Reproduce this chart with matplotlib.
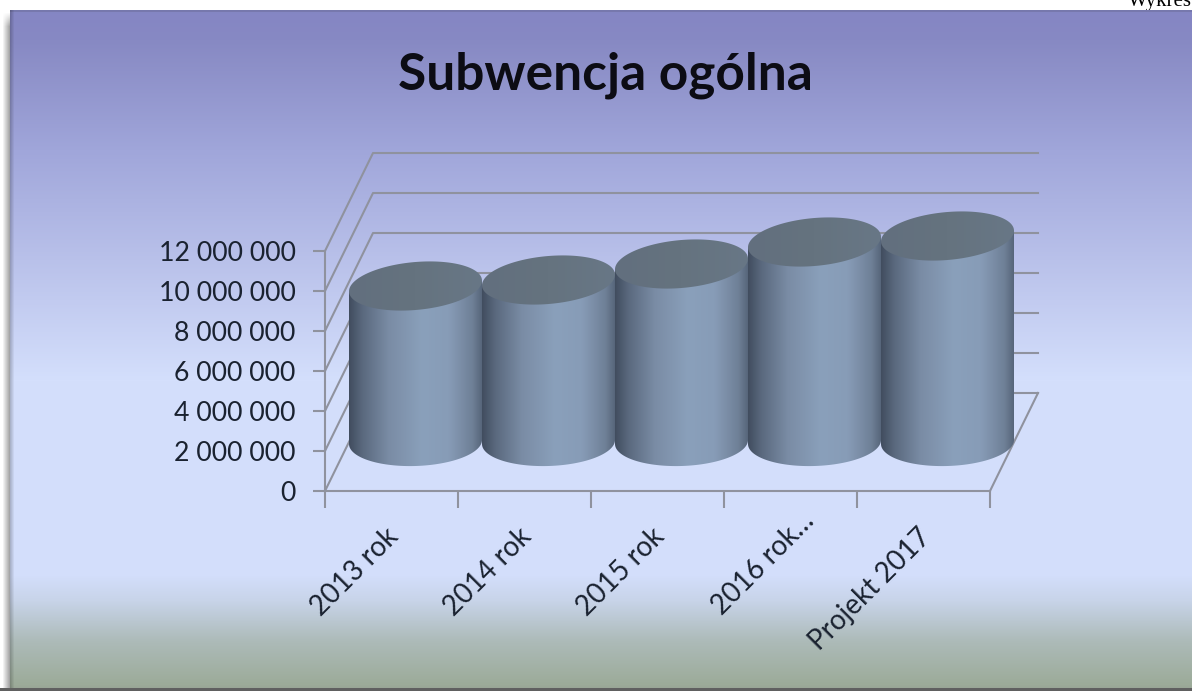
"""Subwencja ogolna: 3D-looking cylinder chart drawn on flat matplotlib axes."""

import matplotlib.pyplot as plt
import numpy as np
from matplotlib.colors import LinearSegmentedColormap
from matplotlib.patches import Polygon
from matplotlib.transforms import Affine2D

CATEGORIES = ["2013 rok", "2014 rok", "2015 rok", "2016 rok…", "Projekt 2017"]
VALUES = [7_800_000, 8_100_000, 8_900_000, 10_000_000, 10_300_000]
Y_TICKS = [0, 2_000_000, 4_000_000, 6_000_000, 8_000_000, 10_000_000, 12_000_000]
TITLE = "Subwencja ogólna"
CORNER_TEXT = "Wykres"

W, H = 1192, 691
DPI = 100
FONT = "Lato"
TEXT_COLOR = "#1a2230"
GRID_COLOR = "#8f929e"

# depth of the fake 3D box, in data units (48 px across, 98 px up)
DEPTH_X = 48 / 133
DEPTH_Y = 98 / 20 * 1_000_000
ELLIPSE_B = 24 / 20 * 1_000_000
TOP_SHEAR = 0.08
BASE_SHEAR = 0.03

body_cmap = LinearSegmentedColormap.from_list("body", [
    (0.00, "#414d5f"),
    (0.10, "#5a697e"),
    (0.30, "#7a8ca5"),
    (0.55, "#8aa0bb"),
    (0.75, "#879cb7"),
    (0.93, "#6f8097"),
    (1.00, "#57667b"),
])
top_cmap = LinearSegmentedColormap.from_list("top", ["#626f7e", "#65737f", "#687786"])


def background():
    """White page with the chart panel gradient and its soft shadow."""
    stops_y = [10, 14, 40, 150, 260, 380, 575, 600, 640, 684, 688]
    stops = ["#8486c0", "#8586c4", "#8789c3", "#a0a6da", "#b9c1ea", "#d4dffc",
             "#d3defb", "#c8d4e9", "#adbbb9", "#9cab99", "#98a596"]
    stops = np.array([[int(c[i:i + 2], 16) / 255 for i in (1, 3, 5)] for c in stops])
    ys = np.arange(H)
    panel = np.stack([np.interp(ys, stops_y, stops[:, k]) for k in range(3)], axis=1)
    img = np.ones((H, W, 4))
    img[:, :, :3] = panel[:, None, :]
    # darker rim on the panel
    img[10:12, :, :3] = img[10:12, :, :3] * 0.9
    rim = np.interp(np.arange(10, 14), [10, 14], [0.8, 1.0])
    img[10:, 10:14, :3] *= rim[None, :, None]
    # shadow left of the panel
    shade = np.interp(np.arange(10), [2, 10], [1.0, 0.6])
    fade = np.clip((ys - 12) / 14, 0, 1)
    for k in range(3):
        img[:, :10, k] = 1 - (1 - shade[None, :]) * fade[:, None]
    img[:10, :, 3] = 0
    img[688:, :, :3] = 0.38
    return img


def wall_lines(ax):
    x0, x1 = -0.5, len(CATEGORIES) - 0.5
    for v in Y_TICKS:
        xs = [x0, x0 + DEPTH_X, x1 + DEPTH_X]
        ys = [v, v + DEPTH_Y, v + DEPTH_Y]
        ax.plot(xs, ys, color=GRID_COLOR, lw=1.5, clip_on=False, zorder=1)
    ax.plot([x1, x1 + DEPTH_X], [0, DEPTH_Y], color=GRID_COLOR, lw=1.5, clip_on=False, zorder=1)


def ellipse_xy(cx, cy, shear, t):
    # shear in px/px; data units are 133 px per category and 50 000 per px
    x = cx + 0.5 * np.cos(t)
    y = cy + shear * 66.5 * np.cos(t) * 50_000 + ELLIPSE_B * np.sin(t)
    return x, y


def cylinder(ax, fig, i, value, z):
    cx = i + DEPTH_X / 2
    base = DEPTH_Y / 2
    top = base + value

    # body outline: bottom ellipse front half, then straight up to the top rim
    t_low = np.linspace(np.pi, 2 * np.pi, 80)
    bx, by = ellipse_xy(cx, base, BASE_SHEAR, t_low)
    t_up = np.linspace(0, 2 * np.pi, 160)
    tx, ty = ellipse_xy(cx, top, TOP_SHEAR, t_up)
    outline = np.vstack([np.column_stack([bx, by]),
                         [[cx + 0.5, top + TOP_SHEAR * 66.5 * 50_000]],
                         [[cx - 0.5, top - TOP_SHEAR * 66.5 * 50_000]]])
    clip = Polygon(outline, closed=True, transform=ax.transData, fc="none", ec="none")
    clip.set_clip_on(False)
    ax.add_patch(clip)
    body = ax.imshow(np.linspace(0, 1, 256)[None, :], cmap=body_cmap, aspect="auto",
                     extent=(cx - 0.5, cx + 0.5, 0, top + ELLIPSE_B), zorder=z)
    body.set_clip_box(fig.bbox)
    body.set_clip_path(clip)

    cap_clip = Polygon(np.column_stack([tx, ty]), closed=True, transform=ax.transData,
                       fc="none", ec="none")
    cap_clip.set_clip_on(False)
    ax.add_patch(cap_clip)
    cap = ax.imshow(np.linspace(0, 1, 256)[None, :], cmap=top_cmap, aspect="auto",
                    extent=(cx - 0.5, cx + 0.5, top - 2 * ELLIPSE_B, top + 2 * ELLIPSE_B),
                    zorder=z + 0.1)
    cap.set_clip_box(fig.bbox)
    cap.set_clip_path(cap_clip)


def main():
    fig = plt.figure(figsize=(W / DPI, H / DPI), dpi=DPI, facecolor="white")

    bg = fig.add_axes([0, 0, 1, 1])
    bg.set_xlim(0, W)
    bg.set_ylim(H, 0)
    bg.axis("off")
    bg.text(1128, 6, CORNER_TEXT, family="Liberation Serif", fontsize=15,
            color="black", ha="left", va="baseline", zorder=1)
    bg.imshow(background(), extent=(0, W, H, 0), aspect="auto", zorder=2)
    bg.set_xlim(0, W)
    bg.set_ylim(H, 0)
    bg.text(605, 75, TITLE, family=FONT, weight="bold", fontsize=37, color="#0c0c14",
            ha="center", va="center", zorder=3)

    # front plane of the box: x 325..990 px, y 491..251 px
    ax = fig.add_axes([325 / W, 1 - 491 / H, 665 / W, 240 / H])
    ax.patch.set_visible(False)
    n = len(CATEGORIES)

    wall_lines(ax)
    for i, value in enumerate(VALUES):
        cylinder(ax, fig, i, value, 2 + i)

    ax.set_xlim(-0.5, n - 0.5)
    ax.set_ylim(0, 12_000_000)

    ax.set_yticks(Y_TICKS)
    ax.set_yticklabels([f"{v:,}".replace(",", " ") for v in Y_TICKS], family=FONT,
                       fontsize=19.2, color=TEXT_COLOR)
    ax.tick_params(axis="y", length=9, width=1.5, color=GRID_COLOR, pad=12)

    ax.set_xticks(np.arange(n + 1) - 0.5)
    ax.set_xticklabels([])
    ax.tick_params(axis="x", which="major", length=12, width=1.5, color=GRID_COLOR)
    ax.set_xticks(np.arange(n), minor=True)
    ax.set_xticklabels(CATEGORIES, minor=True, family=FONT, fontsize=20, color=TEXT_COLOR,
                       rotation=45, ha="right", va="center", rotation_mode="anchor")
    ax.tick_params(axis="x", which="minor", length=0, pad=30)

    # the truncated label keeps the start of the others, so it sticks out further up
    for i, label in enumerate(ax.get_xticklabels(minor=True)):
        shift = (19, 16) if CATEGORIES[i].endswith("…") else (3, 0)
        label.set_transform(label.get_transform() + Affine2D().translate(*shift))

    for side in ("top", "right"):
        ax.spines[side].set_visible(False)
    for side in ("left", "bottom"):
        ax.spines[side].set_color(GRID_COLOR)
        ax.spines[side].set_linewidth(1.5)

    fig.savefig("out.png", dpi=DPI)
    plt.close(fig)


if __name__ == "__main__":
    main()
